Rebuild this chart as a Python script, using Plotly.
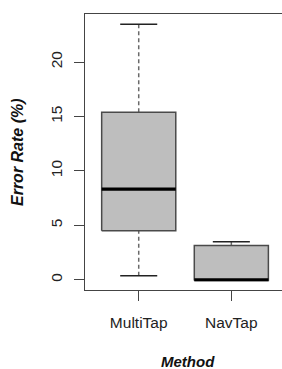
import plotly.graph_objects as go

methods = ["MultiTap", "NavTap"]
positions = [1, 2]
lower_whisker = [0.37, 0.0]
q1 = [4.5, -0.06]
median = [8.33, 0.0]
q3 = [15.38, 3.15]
upper_whisker = [23.47, 3.49]

y_ticks = [0, 5, 10, 15, 20]

box_half = 0.4
cap_half = 0.2

fig = go.Figure()

for i, m in enumerate(methods):
    x0 = positions[i]
    # dashed whiskers
    fig.add_trace(go.Scatter(x=[x0, x0], y=[q3[i], upper_whisker[i]], mode="lines",
                             line=dict(color="#6a6a6a", width=1.5, dash="4px,3px"),
                             showlegend=False, hoverinfo="skip"))
    fig.add_trace(go.Scatter(x=[x0, x0], y=[lower_whisker[i], q1[i]], mode="lines",
                             line=dict(color="#6a6a6a", width=1.5, dash="4px,3px"),
                             showlegend=False, hoverinfo="skip"))
    # caps
    for yv in (upper_whisker[i], lower_whisker[i]):
        fig.add_trace(go.Scatter(x=[x0 - cap_half, x0 + cap_half], y=[yv, yv], mode="lines",
                                 line=dict(color="#222222", width=1.3),
                                 showlegend=False, hoverinfo="skip"))
    # box body
    fig.add_trace(go.Scatter(x=[x0 - box_half, x0 + box_half, x0 + box_half, x0 - box_half, x0 - box_half],
                             y=[q1[i], q1[i], q3[i], q3[i], q1[i]], mode="lines", fill="toself",
                             fillcolor="#bebebe", line=dict(color="#4a4a4a", width=1.5),
                             showlegend=False, hoverinfo="skip"))
    # median
    fig.add_trace(go.Scatter(x=[x0 - box_half, x0 + box_half], y=[median[i], median[i]], mode="lines",
                             line=dict(color="#000000", width=3.2),
                             showlegend=False, hoverinfo="skip"))

font_family = "Liberation Sans, Arial, sans-serif"

fig.update_layout(
    width=282, height=369,
    margin=dict(l=85, r=0, t=14, b=79),
    paper_bgcolor="white", plot_bgcolor="white",
    showlegend=False,
    font=dict(family=font_family, size=15, color="#222222"),
    xaxis=dict(range=[0.42, 2.547], tickmode="array", tickvals=positions, ticktext=methods,
               showgrid=False, zeroline=False, showline=True, linecolor="#444444", linewidth=1.3,
               mirror=True, ticks="outside", ticklen=10, tickwidth=1.3, tickcolor="#444444",
               ticklabelstandoff=8, tickfont=dict(size=15.5, color="#222222")),
    yaxis=dict(range=[-0.94, 24.41], tickmode="array", tickvals=y_ticks,
               showgrid=False, zeroline=False, showline=True, linecolor="#444444", linewidth=1.3,
               mirror=False, ticks="outside", ticklen=10, tickwidth=1.3, tickcolor="#444444",
               tickangle=-90, ticklabelstandoff=6, tickfont=dict(size=15.5, color="#222222")),
    annotations=[
        dict(text="<b><i>Method</i></b>", xref="x", yref="paper", x=1.5, y=0,
             xshift=3, yshift=-71, yanchor="middle", showarrow=False,
             font=dict(size=15, color="#111111")),
        dict(text="<b><i>Error Rate (%)</i></b>", xref="paper", yref="paper", x=0, y=0.5,
             xshift=-68, textangle=-90, xanchor="center", yanchor="middle", showarrow=False,
             font=dict(size=16, color="#111111")),
    ],
)

fig.write_html(
    "out.html",
    config={"displayModeBar": False},
    post_script="document.body.style.margin='0';document.body.style.padding='0';"
                "document.body.style.overflow='hidden';document.documentElement.style.overflow='hidden';",
)
